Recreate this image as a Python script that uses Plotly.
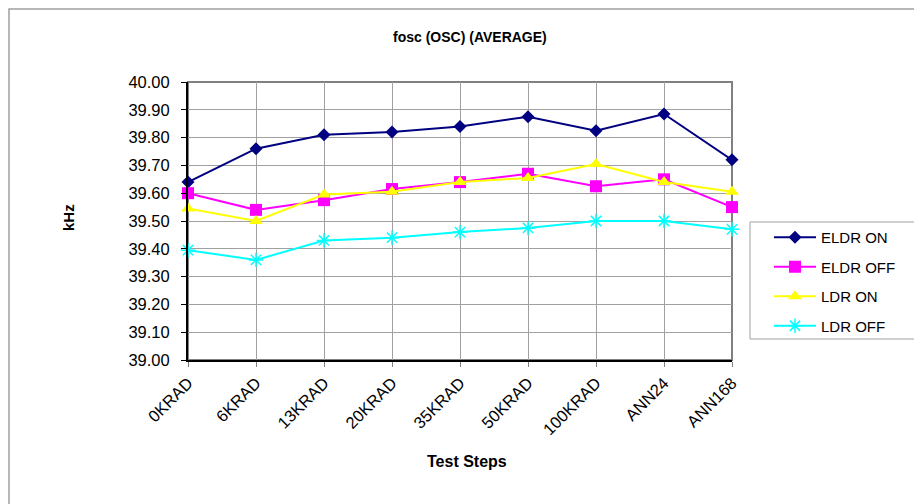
import plotly.graph_objects as go

categories = ["0KRAD", "6KRAD", "13KRAD", "20KRAD", "35KRAD", "50KRAD", "100KRAD", "ANN24", "ANN168"]
eldr_on = [39.64, 39.76, 39.81, 39.82, 39.84, 39.875, 39.825, 39.885, 39.72]
eldr_off = [39.60, 39.54, 39.575, 39.615, 39.64, 39.67, 39.625, 39.65, 39.55]
ldr_on = [39.545, 39.50, 39.595, 39.605, 39.64, 39.655, 39.705, 39.64, 39.605]
ldr_off = [39.395, 39.36, 39.43, 39.44, 39.46, 39.475, 39.50, 39.50, 39.47]
y_ticks = [39.00, 39.10, 39.20, 39.30, 39.40, 39.50, 39.60, 39.70, 39.80, 39.90, 40.00]

FONT = "Liberation Sans, Arial, sans-serif"
W, H = 922, 504
OFF = 8  # page body offset
L, R, T, B = 188 - OFF, W - (732 - OFF), 82 - OFF, H - (360 - OFF)
PW, PH = W - L - R, H - T - B


def px(xw):
    return (xw - OFF - L) / PW


def py(yw):
    return (H - B - (yw - OFF)) / PH


series = [
    ("ELDR ON", eldr_on, "#000080", dict(symbol="diamond", size=10, color="#000080")),
    ("ELDR OFF", eldr_off, "#FF00FF", dict(symbol="square", size=12, color="#FF00FF")),
    ("LDR ON", ldr_on, "#FFFF00", dict(symbol="triangle-up", size=12, color="#FFFF00")),
    ("LDR OFF", ldr_off, "#00FFFF", dict(symbol="asterisk-open", size=12, color="#00FFFF",
                                       line=dict(color="#00FFFF", width=1.5))),
]

fig = go.Figure()
for name, vals, col, mk in series:
    fig.add_trace(go.Scatter(
        x=categories, y=vals, name=name, mode="lines+markers",
        line=dict(color=col, width=2), marker=mk, cliponaxis=False,
        legendgroup=name,
    ))

fig.update_layout(
    width=W, height=H,
    margin=dict(l=L, r=R, t=T, b=B, autoexpand=False),
    paper_bgcolor="white", plot_bgcolor="white",
    font=dict(family=FONT, size=15, color="black"),
    showlegend=True,
    legend=dict(
        x=px(769), y=py(221), xanchor="left", yanchor="top",
        borderwidth=0, bgcolor="rgba(0,0,0,0)",
        font=dict(family=FONT, size=15, color="black"),
        tracegroupgap=7, itemwidth=42,
    ),
    annotations=[
        dict(text="<b>fosc (OSC) (AVERAGE)</b>", x=px(470), y=py(37), xref="paper", yref="paper",
             xanchor="center", yanchor="middle", showarrow=False, font=dict(size=14)),
        dict(text="<b>Test Steps</b>", x=px(467), y=py(461), xref="paper", yref="paper",
             xanchor="center", yanchor="middle", showarrow=False, font=dict(size=16)),
        dict(text="<b>kHz</b>", x=px(68), y=py(218), xref="paper", yref="paper",
             xanchor="center", yanchor="middle", showarrow=False, textangle=-90,
             font=dict(size=15)),
    ],
)

fig.update_xaxes(
    type="category", range=[0, 8], tickangle=-45,
    showgrid=True, gridcolor="#A0A0A0", gridwidth=1,
    showline=True, linecolor="black", linewidth=2,
    ticks="outside", ticklen=5, tickcolor="#808080",
    tickfont=dict(family=FONT, size=16.5), zeroline=False,
)
fig.update_yaxes(
    range=[39.0, 40.0], tickvals=y_ticks, tickformat=".2f",
    showgrid=True, gridcolor="#A0A0A0", gridwidth=1,
    showline=True, linecolor="black", linewidth=2,
    ticks="outside", ticklen=5, tickcolor="black", ticklabelstandoff=8,
    tickfont=dict(family=FONT, size=16.5), zeroline=False,
)

# plot-area gray border (top/right)
fig.add_shape(type="rect", xref="paper", yref="paper", x0=0, y0=0, x1=1, y1=1,
              line=dict(color="#808080", width=2), layer="below")
# legend box
fig.add_shape(type="rect", xref="paper", yref="paper",
              x0=px(750), y0=py(222), x1=px(918), y1=py(339),
              line=dict(color="#A0A0A0", width=1), layer="below")
# outer chart border
fig.add_shape(type="rect", xref="paper", yref="paper",
              x0=px(9), y0=py(9), x1=px(960), y1=py(560),
              line=dict(color="#A0A0A0", width=1.5), layer="below")

fig.write_html("out.html")
